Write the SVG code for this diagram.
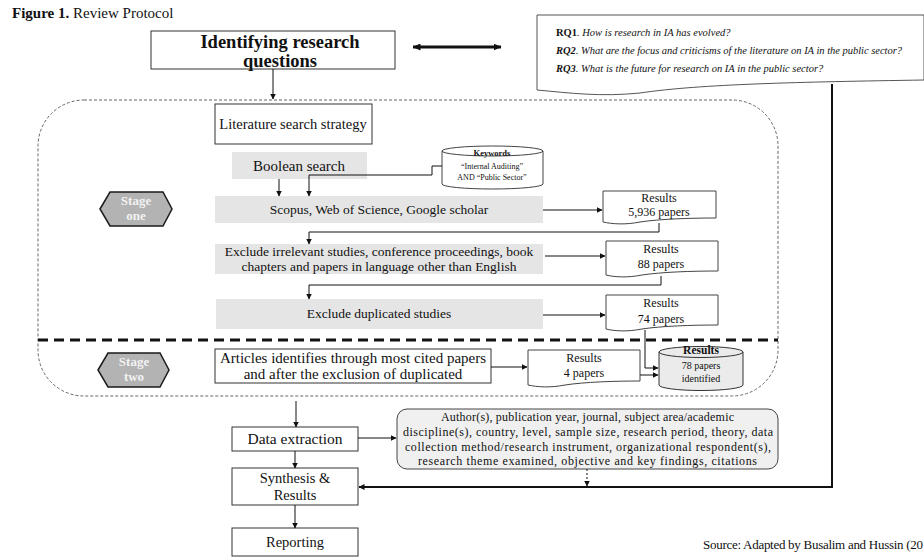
<svg xmlns="http://www.w3.org/2000/svg" width="924" height="558" viewBox="0 0 924 558">
<defs>
<marker id="ah" markerUnits="userSpaceOnUse" markerWidth="8" markerHeight="7" refX="7.5" refY="3.5" orient="auto-start-reverse"><path d="M0,0 L8,3.5 L0,7 z" fill="#111"/></marker>
<marker id="ahs" markerUnits="userSpaceOnUse" markerWidth="6" markerHeight="6" refX="5.5" refY="3" orient="auto"><path d="M0,0 L6,3 L0,6 z" fill="#111"/></marker>
</defs>
<style>
.t{font-family:"Liberation Serif","Times New Roman",serif;fill:#111}
.b{font-weight:bold}
.i{font-style:italic}
.box{fill:#fff;stroke:#333;stroke-width:1}
.gray{fill:#e5e5e5;stroke:none}
.c{fill:none;stroke:#111;stroke-width:1}
.hex{fill:#b3b3b3;stroke:#1a1a1a;stroke-width:1.5}
.ht{font-family:"Liberation Serif","Times New Roman",serif;font-weight:bold;font-size:13px;fill:#f2f2f2;text-anchor:middle}
.m{text-anchor:middle}
</style>
<rect width="924" height="558" fill="#fff"/>

<text class="t" x="12" y="18" font-size="15"><tspan class="b">Figure 1.</tspan> Review Protocol</text>

<!-- container -->
<g id="stages-container">
<rect x="38" y="100" width="740" height="296" rx="46" ry="46" fill="none" stroke="#666" stroke-width="1" stroke-dasharray="3,2"/>
<line x1="38" y1="340" x2="778" y2="340" stroke="#111" stroke-width="3" stroke-dasharray="10,6"/>
</g>

<g id="identify">
<rect class="box" x="151" y="31" width="244" height="38"/>
<text class="t b m" x="280" y="48" font-size="18.5">Identifying research</text>
<text class="t b m" x="280" y="67" font-size="18.5">questions</text>
</g>

<g id="rq">
<path d="M537,15 H924 V80 C800,82 700,84 640,93 C600,97 570,93 537,90 Z" fill="#fff" stroke="#555" stroke-width="1"/>
<text class="t" x="556" y="36" font-size="10.5"><tspan class="b">RQ1</tspan><tspan class="i">. How is research in IA has evolved?</tspan></text>
<text class="t i" x="556" y="54" font-size="10.5" textLength="346" lengthAdjust="spacing"><tspan class="b">RQ2</tspan>. What are the focus and criticisms of the literature on IA in the public sector?</text>
<text class="t i" x="556" y="72" font-size="10.5"><tspan class="b">RQ3</tspan>. What is the future for research on IA in the public sector?</text>
</g>

<g id="lit">
<rect class="box" x="215" y="104" width="157" height="40"/>
<text class="t m" x="293" y="129" font-size="14.5">Literature  search strategy</text>
</g>

<g id="boolean">
<rect class="gray" x="232" y="152" width="135" height="27"/>
<text class="t m" x="299" y="171" font-size="15">Boolean search</text>
</g>

<g id="keywords">
<path d="M442,151 A50.5,5 0 0 1 543,151 V184 A50.5,5 0 0 1 442,184 Z" fill="#fff" stroke="#444" stroke-width="1"/>
<path d="M442,151 A50.5,5 0 0 0 543,151" fill="none" stroke="#444" stroke-width="1"/>
<text class="t b m" x="492" y="156" font-size="8.5">Keywords</text>
<text class="t m" x="492" y="169" font-size="8">“Internal Auditing”</text>
<text class="t m" x="492" y="180" font-size="8">AND  “Public Sector”</text>
</g>

<g id="stage-one">
<polygon class="hex" points="100,209 110,192 163,192 172,209 163,226 110,226"/>
<text class="ht" x="136" y="205">Stage</text>
<text class="ht" x="136" y="220">one</text>
</g>

<g id="scopus">
<rect class="gray" x="215" y="196" width="328" height="27"/>
<text class="t m" x="379" y="214" font-size="13.5">Scopus, Web of Science, Google scholar</text>
</g>

<g id="res5936">
<path d="M603,191 H716 V218 C690,218 660,219 640,222 C625,225 612,224 603,222 Z" fill="#fff" stroke="#444" stroke-width="1"/>
<text class="t m" x="659" y="202" font-size="12">Results</text>
<text class="t m" x="659" y="216" font-size="12">5,936 papers</text>
</g>

<g id="exclude1">
<rect class="gray" x="215" y="244" width="328" height="30"/>
<text class="t m" x="379" y="256" font-size="13.5">Exclude irrelevant studies, conference proceedings, book</text>
<text class="t m" x="379" y="271" font-size="13.5">chapters and papers in language other than English</text>
</g>

<g id="res88">
<path d="M606,241 H718 V271 C692,271 662,272 642,275 C627,278 614,277 606,275 Z" fill="#fff" stroke="#444" stroke-width="1"/>
<text class="t m" x="661" y="253" font-size="12">Results</text>
<text class="t m" x="661" y="268" font-size="12">88 papers</text>
</g>

<g id="exclude2">
<rect class="gray" x="216" y="299" width="327" height="30"/>
<text class="t m" x="379" y="318" font-size="13.5">Exclude duplicated studies</text>
</g>

<g id="res74">
<path d="M606,295 H718 V325 C692,325 662,326 642,329 C627,332 614,331 606,329 Z" fill="#fff" stroke="#444" stroke-width="1"/>
<text class="t m" x="661" y="307" font-size="12">Results</text>
<text class="t m" x="661" y="323" font-size="12">74 papers</text>
</g>

<g id="stage-two">
<polygon class="hex" points="98,370 108,353 160,353 169,370 160,387 108,387"/>
<text class="ht" x="134" y="366">Stage</text>
<text class="ht" x="134" y="381">two</text>
</g>

<g id="articles">
<rect class="box" x="215" y="349" width="276" height="34"/>
<text class="t m" x="353" y="363" font-size="15">Articles identifies  through most cited papers</text>
<text class="t m" x="353" y="379" font-size="15">and after the exclusion of duplicated</text>
</g>

<g id="res4">
<path d="M528,350 H640 V381 C614,381 585,382 565,385 C550,388 537,387 528,385 Z" fill="#fff" stroke="#444" stroke-width="1"/>
<text class="t m" x="584" y="362" font-size="12">Results</text>
<text class="t m" x="584" y="377" font-size="12">4 papers</text>
</g>

<g id="res78">
<path d="M659,352 A42,5.5 0 0 1 743,352 V385 A42,5.5 0 0 1 659,385 Z" fill="#ebebeb" stroke="#333" stroke-width="1"/>
<path d="M659,352 A42,5.5 0 0 0 743,352" fill="none" stroke="#333" stroke-width="1"/>
<text class="t b m" x="701" y="354" font-size="11.5">Results</text>
<text class="t m" x="701" y="369" font-size="10">78 papers</text>
<text class="t m" x="701" y="382" font-size="10">identified</text>
</g>

<g id="data-extraction">
<rect class="box" x="232" y="427" width="126" height="24"/>
<text class="t m" x="295" y="444" font-size="15.5">Data extraction</text>
</g>

<g id="attributes">
<rect x="397" y="409" width="381" height="60" rx="10" ry="10" fill="#f0f0f0" stroke="#444" stroke-width="1"/>
<text class="t" x="441" y="421" font-size="12" textLength="293" lengthAdjust="spacing">Author(s),  publication  year,  journal,  subject  area/academic</text>
<text class="t" x="403" y="436" font-size="12" textLength="370" lengthAdjust="spacing">discipline(s),  country,  level,  sample size,  research period,  theory,  data</text>
<text class="t" x="405" y="451" font-size="12" textLength="366" lengthAdjust="spacing">collection  method/research  instrument,  organizational  respondent(s),</text>
<text class="t" x="418" y="465" font-size="12" textLength="339" lengthAdjust="spacing">research theme  examined,  objective  and key findings,  citations</text>
</g>

<g id="synthesis">
<rect class="box" x="232" y="468" width="126" height="37"/>
<text class="t m" x="295" y="483" font-size="14.5">Synthesis &amp;</text>
<text class="t m" x="295" y="500" font-size="14.5">Results</text>
</g>

<g id="reporting">
<rect class="box" x="232" y="528" width="126" height="28"/>
<text class="t m" x="295" y="547" font-size="14.5">Reporting</text>
</g>

<text class="t" x="703" y="549" font-size="13" textLength="220" lengthAdjust="spacing">Source: Adapted by Busalim  and Hussin  (20</text>

<g id="connectors">
<line x1="413" y1="47" x2="501" y2="47" stroke="#111" stroke-width="3" marker-start="url(#ah)" marker-end="url(#ah)"/>
<line class="c" x1="273" y1="69" x2="273" y2="99" marker-end="url(#ahs)"/>
<line class="c" x1="279" y1="179" x2="279" y2="196" marker-end="url(#ahs)"/>
<polyline class="c" points="442,166 432,166 432,175 309,175 309,196" marker-end="url(#ahs)"/>
<line class="c" x1="543" y1="210" x2="602" y2="210" marker-end="url(#ahs)"/>
<polyline class="c" points="659,223 659,232 309,232 309,244" marker-end="url(#ahs)"/>
<line class="c" x1="545" y1="256" x2="605" y2="256" marker-end="url(#ahs)"/>
<polyline class="c" points="661,276 661,285 309,285 309,299" marker-end="url(#ahs)"/>
<line class="c" x1="543" y1="315" x2="605" y2="315" marker-end="url(#ahs)"/>
<polyline class="c" points="645,330 645,368 658,368" marker-end="url(#ahs)"/>
<line class="c" x1="491" y1="367" x2="527" y2="367" marker-end="url(#ahs)"/>
<line class="c" x1="640" y1="375" x2="658" y2="375" marker-end="url(#ahs)"/>
<line class="c" x1="296" y1="401" x2="296" y2="427" marker-end="url(#ahs)"/>
<line class="c" x1="358" y1="438" x2="396" y2="438" marker-end="url(#ahs)"/>
<line class="c" x1="295" y1="451" x2="295" y2="468" stroke-width="1.5" marker-end="url(#ahs)"/>
<line class="c" x1="295" y1="505" x2="295" y2="528" stroke-width="1.5" marker-end="url(#ahs)"/>
<line class="c" x1="587" y1="469" x2="587" y2="486" stroke-dasharray="2,2" marker-end="url(#ahs)"/>
<polyline points="832,84 832,487 359,487" fill="none" stroke="#111" stroke-width="2" marker-end="url(#ahs)"/>
</g>
</svg>
